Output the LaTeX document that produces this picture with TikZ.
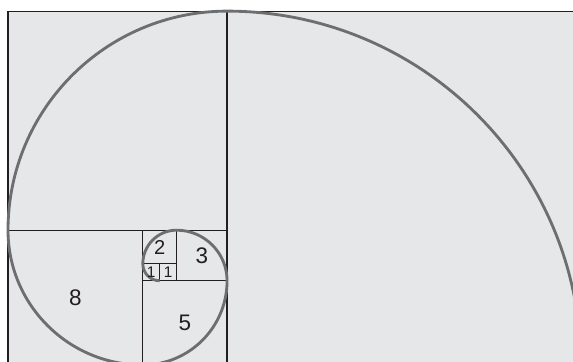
\documentclass[tikz,border=0pt]{standalone}
\usepackage{fontspec}
\setmainfont{Liberation Sans}
\definecolor{paper}{HTML}{E6E7E8}
\definecolor{spiralgray}{HTML}{6D6E70}
\definecolor{ink}{HTML}{231F20}

\begin{document}
\begin{tikzpicture}[x=0.5cm, y=0.5cm,
    sqline/.style={draw=ink, line width=1pt},
    spiralline/.style={draw=spiralgray, line width=2.4pt},
    numlabel/.style={text=ink, inner sep=0pt, font=\fontsize{19}{19}\selectfont}]
    % Crop of the page
    \useasboundingbox (-0.475,0.178) rectangle (33.53,21.66);
    \fill[paper] (0,0) rectangle (34,21);

    % Squares
    \draw[sqline] (0,0) rectangle (34,21);
    \draw[sqline] (13,0) -- (13,21);
    \draw[sqline] (0,8) -- (13,8);
    \draw[sqline] (8,0) -- (8,8);
    \draw[sqline] (8,5) -- (13,5);
    \draw[sqline] (10,5) -- (10,8);
    \draw[sqline] (8,6) -- (10,6);
    \draw[sqline] (9,5) -- (9,6);

    % Golden spiral
    \draw[spiralline] (34,0) arc (0:90:21) arc (90:180:13) arc (180:270:8)
        arc (270:360:5) arc (0:90:3) arc (90:180:2) arc (180:270:1);

    % Square sizes
    \node[numlabel] (n8) at (4,4) {8};
    \node[numlabel] (n5) at (10.5,2.5) {5};
    \node[numlabel] (n3) at (11.5,6.5) {3};
    \node[numlabel, font=\fontsize{17}{17}\selectfont] (n2) at (9,7) {2};
    \node[numlabel, font=\fontsize{13}{13}\selectfont] (n1a) at (8.5,5.5) {1};
    \node[numlabel, font=\fontsize{13}{13}\selectfont] (n1b) at (9.5,5.5) {1};
\end{tikzpicture}
\end{document}
